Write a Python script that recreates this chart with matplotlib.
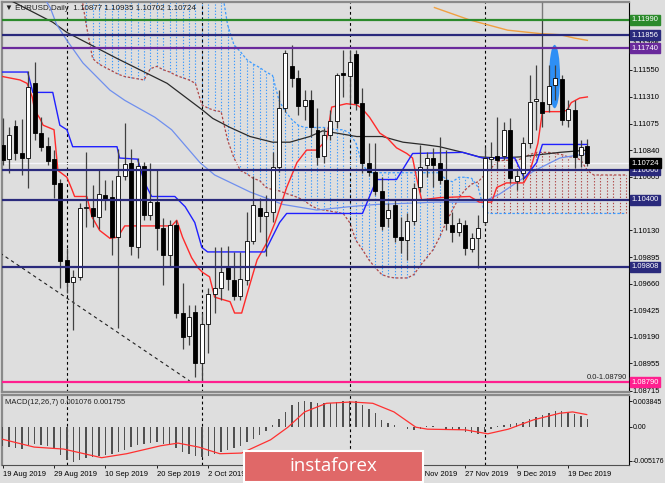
import numpy as np
import matplotlib.pyplot as plt
import matplotlib.transforms as mtransforms
from matplotlib.patches import Ellipse, FancyBboxPatch

plt.rcParams['font.family'] = ['Liberation Sans', 'DejaVu Sans']

# ---------------------------------------------------------------- data
# EURUSD daily, 19 Aug 2019 .. 24 Dec 2019 (bar index 0..91)
opens = [1.10885, 1.10761, 1.11053, 1.10814, 1.10770, 1.11433, 1.10991, 1.10876, 1.10761, 1.10549,
         1.09868, 1.09674, 1.09718, 1.10328, 1.10328, 1.10248, 1.10443, 1.10425, 1.10072, 1.10611,
         1.10726, 1.09983, 1.10699, 1.10266, 1.10381, 1.10151, 1.09913, 1.10178, 1.09400, 1.09197,
         1.09409, 1.08958, 1.09303, 1.09568, 1.09621, 1.09815, 1.09692, 1.09550, 1.09692, 1.10036,
         1.10328, 1.10257, 1.10293, 1.10690, 1.11212, 1.11583, 1.11477, 1.11230, 1.11283, 1.11018,
         1.10788, 1.10973, 1.11097, 1.11521, 1.11495, 1.11689, 1.11256, 1.10726, 1.10646, 1.10478,
         1.10240, 1.10355, 1.10072, 1.10045, 1.10213, 1.10514, 1.10708, 1.10770, 1.10726, 1.10576,
         1.10178, 1.10116, 1.10178, 1.09966, 1.10063, 1.10204, 1.10761, 1.10788, 1.10788, 1.11018,
         1.10567, 1.10637, 1.10903, 1.11274, 1.11265, 1.11247, 1.11416, 1.11468, 1.11106, 1.11194,
         1.10797, 1.10877]
highs = [1.11124, 1.11044, 1.11106, 1.11115, 1.11539, 1.11619, 1.11133, 1.10956, 1.10841, 1.10584,
         1.09975, 1.09780, 1.10372, 1.10823, 1.10531, 1.10664, 1.10576, 1.10576, 1.10850, 1.11079,
         1.10850, 1.10770, 1.10735, 1.10726, 1.10664, 1.10240, 1.10222, 1.10222, 1.09665, 1.09471,
         1.09471, 1.09400, 1.09621, 1.09983, 1.09983, 1.09992, 1.09939, 1.09939, 1.10293, 1.10611,
         1.10417, 1.10443, 1.10823, 1.11371, 1.11725, 1.11769, 1.11548, 1.11371, 1.11371, 1.11212,
         1.11035, 1.11194, 1.11521, 1.11725, 1.11725, 1.11725, 1.11389, 1.10903, 1.10903, 1.10602,
         1.10372, 1.10399, 1.10248, 1.10284, 1.10549, 1.10885, 1.10823, 1.10858, 1.10956, 1.10841,
         1.10293, 1.10240, 1.10222, 1.10107, 1.10266, 1.10867, 1.10912, 1.11133, 1.11088, 1.11124,
         1.10664, 1.10956, 1.11504, 1.11592, 1.11990, 1.11592, 1.11592, 1.11504, 1.11283, 1.11283,
         1.10929, 1.10935]
lows = [1.10708, 1.10637, 1.10752, 1.10620, 1.10505, 1.10929, 1.10832, 1.10708, 1.10417, 1.09621,
        1.09577, 1.09250, 1.09692, 1.10160, 1.10160, 1.10142, 1.10310, 1.09913, 1.09267, 1.10576,
        1.09913, 1.09886, 1.10222, 1.10222, 1.09957, 1.09647, 1.09806, 1.09356, 1.09082, 1.09117,
        1.08834, 1.08790, 1.09046, 1.09400, 1.09515, 1.09603, 1.09515, 1.09515, 1.09647, 1.10010,
        1.10116, 1.09904, 1.10204, 1.10646, 1.11177, 1.11398, 1.11150, 1.11106, 1.10956, 1.10708,
        1.10726, 1.10929, 1.11035, 1.11309, 1.11239, 1.11194, 1.10637, 1.10611, 1.10443, 1.10134,
        1.10160, 1.10027, 1.09930, 1.09868, 1.10178, 1.10470, 1.10602, 1.10514, 1.10540, 1.10134,
        1.10027, 1.10081, 1.09913, 1.09939, 1.09798, 1.10178, 1.10664, 1.10664, 1.10752, 1.10549,
        1.10487, 1.10576, 1.10858, 1.11018, 1.11044, 1.11177, 1.11283, 1.11062, 1.11044, 1.10682,
        1.10690, 1.10702]
closes = [1.10752, 1.10973, 1.10814, 1.10770, 1.11398, 1.10991, 1.10867, 1.10744, 1.10540, 1.09860,
          1.09674, 1.09718, 1.10328, 1.10337, 1.10257, 1.10452, 1.10408, 1.10072, 1.10611, 1.10717,
          1.09992, 1.10699, 1.10266, 1.10381, 1.10151, 1.09913, 1.10178, 1.09400, 1.09188, 1.09365,
          1.08958, 1.09303, 1.09568, 1.09621, 1.09762, 1.09700, 1.09550, 1.09700, 1.10036, 1.10355,
          1.10257, 1.10293, 1.10690, 1.11212, 1.11698, 1.11477, 1.11230, 1.11283, 1.11044, 1.10779,
          1.10973, 1.11097, 1.11504, 1.11504, 1.11619, 1.11256, 1.10726, 1.10646, 1.10478, 1.10169,
          1.10310, 1.10072, 1.10045, 1.10213, 1.10505, 1.10690, 1.10770, 1.10708, 1.10576, 1.10195,
          1.10116, 1.10195, 1.09975, 1.10063, 1.10151, 1.10770, 1.10779, 1.10752, 1.11018, 1.10593,
          1.10611, 1.10903, 1.11265, 1.11292, 1.11168, 1.11407, 1.11477, 1.11106, 1.11203, 1.10779,
          1.10867, 1.10724]

# date labels still visible (the others sit under the watermark)
date_ticks = [0, 8, 16, 24, 32, 64, 72, 80, 88]
date_labels = ['19 Aug 2019', '29 Aug 2019', '10 Sep 2019', '20 Sep 2019', '2 Oct 2019',
               '15 Nov 2019', '27 Nov 2019', '9 Dec 2019', '19 Dec 2019']
month_starts = [10, 31, 54, 75]

# ichimoku cloud (shifted forward, bars 12..97)
cloud_start = 12
span_a = [1.1230, 1.1195, 1.1165, 1.1160, 1.1157, 1.1154, 1.1151, 1.1149, 1.1148, 1.1147,
          1.1146, 1.1156, 1.1158, 1.1155, 1.1153, 1.1150, 1.1148, 1.1146, 1.1143, 1.1124,
          1.1121, 1.1119, 1.1118, 1.1093, 1.1077, 1.1066, 1.1063, 1.1059, 1.1057, 1.1051,
          1.1049, 1.1048, 1.1046, 1.1044, 1.1042, 1.1039, 1.1035, 1.1032, 1.1031, 1.1030,
          1.1029, 1.1028, 1.1020, 1.1004, 1.0996, 1.0987, 1.0980, 1.0974, 1.0972, 1.0971,
          1.0971, 1.0971, 1.0974, 1.0982, 1.0989, 1.0996, 1.1007, 1.1020, 1.1031, 1.1042,
          1.1049, 1.1054, 1.1056, 1.1062, 1.1068, 1.1074, 1.1075, 1.1075, 1.1075, 1.1077,
          1.1080, 1.1082, 1.1082, 1.1082, 1.1081, 1.1080, 1.1078, 1.1078, 1.1075, 1.1066,
          1.1062, 1.1062, 1.1062, 1.1062, 1.1062, 1.1062]
span_b = [1.1230, 1.1230, 1.1230, 1.1230, 1.1230, 1.1230, 1.1230, 1.1230, 1.1230, 1.1230,
          1.1230, 1.1230, 1.1230, 1.1230, 1.1230, 1.1230, 1.1230, 1.1230, 1.1230, 1.1230,
          1.1230, 1.1230, 1.1230, 1.1195, 1.1177, 1.1171, 1.1164, 1.1160, 1.1157, 1.1153,
          1.1150, 1.1128, 1.1118, 1.1111, 1.1106, 1.1104, 1.1104, 1.1104, 1.1104, 1.1103,
          1.1102, 1.1102, 1.1099, 1.1090, 1.1071, 1.1064, 1.1064, 1.1064, 1.1064, 1.1064,
          1.1064, 1.1064, 1.1064, 1.1064, 1.1064, 1.1064, 1.1064, 1.1058, 1.1056, 1.1060,
          1.1060, 1.1059, 1.1051, 1.1029, 1.1028, 1.1028, 1.1028, 1.1028, 1.1028, 1.1028,
          1.1028, 1.1028, 1.1028, 1.1028, 1.1028, 1.1028, 1.1028, 1.1028, 1.1028, 1.1028,
          1.1028, 1.1028, 1.1028, 1.1028, 1.1028, 1.1028]

tenkan_x = [0.0, 2.7, 3.8, 4.6, 5.0, 5.8, 6.3, 8.0, 8.6, 10.0, 10.8, 11.2, 13.1, 13.9, 15.1, 16.7, 17.9,
            19.0, 26.3, 27.1, 28.0, 29.4, 30.4, 31.1, 32.2, 33.0, 35.4, 36.1, 37.2, 38.2, 39.6, 41.1,
            42.4, 44.2, 45.8, 47.3, 48.9, 50.4, 51.2, 53.5, 55.1, 55.9, 57.1, 58.7, 59.8, 61.3, 62.9,
            63.8, 64.4, 65.2, 68.0, 72.7, 74.2, 76.1, 76.9, 78.4, 81.1, 82.0, 83.3, 84.0, 86.7, 87.8,
            88.5, 89.8, 91.0]
tenkan_y = [1.1149, 1.1146, 1.1143, 1.1131, 1.1119, 1.1112, 1.1106, 1.1102, 1.1066, 1.1060, 1.1049,
            1.1043, 1.1043, 1.1025, 1.1013, 1.1006, 1.1007, 1.1017, 1.1017, 1.1022, 1.1007, 1.0989,
            1.0980, 1.0976, 1.0972, 1.0954, 1.0950, 1.0940, 1.0940, 1.0960, 1.0987, 1.1002, 1.1020,
            1.1051, 1.1073, 1.1084, 1.1084, 1.1093, 1.1122, 1.1125, 1.1124, 1.1121, 1.1113, 1.1099,
            1.1095, 1.1086, 1.1081, 1.1077, 1.1060, 1.1040, 1.1042, 1.1043, 1.1038, 1.1038, 1.1051,
            1.1055, 1.1055, 1.1064, 1.1090, 1.1118, 1.1118, 1.1119, 1.1126, 1.1130, 1.1131]

kijun_x = [0.0, 3.9, 4.7, 7.8, 8.9, 10.0, 10.9, 17.8, 18.2, 21.0, 22.1, 23.2, 26.8, 28.4, 29.9, 31.0,
           31.9, 40.8, 43.1, 44.2, 56.0, 58.2, 61.3, 63.8, 71.6, 74.7, 79.7, 81.2, 83.1, 84.0, 91.0]
kijun_y = [1.1153, 1.1153, 1.1135, 1.1135, 1.1106, 1.1102, 1.1087, 1.1087, 1.1077, 1.1076, 1.1055,
           1.1043, 1.1043, 1.1034, 1.1020, 1.0998, 1.0994, 1.0994, 1.1020, 1.1028, 1.1028, 1.1058,
           1.1058, 1.1081, 1.1082, 1.1077, 1.1077, 1.1059, 1.1073, 1.1089, 1.1089]

ma_slow_x = [-0.4, 7.8, 10.0, 17.8, 25.6, 31.2, 32.7, 35.4, 38.5, 42.0, 44.7, 47.8, 49.8, 52.0, 55.1,
             59.1, 62.3, 65.4, 68.0, 71.6, 74.2, 77.3, 80.5, 83.6, 86.7, 91.0]
ma_slow_y = [1.1221, 1.1197, 1.1188, 1.1165, 1.1143, 1.1119, 1.1112, 1.1104, 1.1096, 1.1091, 1.1091,
             1.1096, 1.1101, 1.1099, 1.1096, 1.1096, 1.1091, 1.1089, 1.1087, 1.1082, 1.1078, 1.1077,
             1.1078, 1.1080, 1.1082, 1.1084]

ma_fast_x = [6.4, 7.4, 8.4, 10.0, 12.5, 16.7, 19.0, 23.7, 26.3, 30.7, 33.0, 38.5, 43.6, 48.9, 54.0,
             58.2, 67.5, 74.7, 77.3, 82.5, 86.7, 91.0]
ma_fast_y = [1.1219, 1.1210, 1.1195, 1.1181, 1.1161, 1.1137, 1.1128, 1.1113, 1.1102, 1.1073, 1.1062,
             1.1047, 1.1036, 1.1031, 1.1034, 1.1036, 1.1038, 1.1038, 1.1045, 1.1065, 1.1077, 1.1081]

ma_long_x = [67.2, 72.7, 78.6, 83.6, 86.7, 89.0, 91.0]
ma_long_y = [1.1210, 1.1199, 1.1190, 1.1187, 1.1186, 1.1183, 1.1181]

trend_x = [-0.4, 29.1]
trend_y = [1.0993, 1.0880]

levels = [1.11990, 1.11856, 1.11740, 1.10660, 1.10400, 1.09808, 1.08790]
level_colors = ['#2b8a2b', '#2a2a7c', '#6a2a9c', '#2a2a7c', '#2a2a7c', '#2a2a7c', '#ff1f8f']
last_price = 1.10724

price_ticks = [1.08715, 1.08955, 1.09190, 1.09425, 1.09660, 1.09895, 1.10130, 1.10370,
               1.10605, 1.10840, 1.11075, 1.11310, 1.11550, 1.11785]

# MACD(12,26,7)
macd_hist = [-0.0030, -0.0031, -0.0033, -0.0034, -0.0028, -0.0026, -0.0028, -0.0029, -0.0033, -0.0043,
             -0.0051, -0.0053, -0.0050, -0.0047, -0.0046, -0.0045, -0.0043, -0.0041, -0.0038, -0.0035,
             -0.0031, -0.0028, -0.0026, -0.0025, -0.0024, -0.0026, -0.0028, -0.0033, -0.0038, -0.0041,
             -0.0044, -0.0046, -0.0045, -0.0041, -0.0038, -0.0035, -0.0033, -0.0029, -0.0024, -0.0019,
             -0.0013, -0.0007, 0.0003, 0.0011, 0.0022, 0.0033, 0.0037, 0.0038, 0.0037, 0.0035,
             0.0035, 0.0036, 0.0037, 0.0039, 0.0039, 0.0038, 0.0032, 0.0026, 0.0020, 0.0010,
             0.0005, 0.0002, -0.0001, -0.0004, -0.0006, -0.0004, 0.0001, 0.0001, -0.0001, -0.0003,
             -0.0004, -0.0006, -0.0008, -0.0010, -0.0012, -0.0008, -0.0003, 0.0001, 0.0003, 0.0004,
             0.0005, 0.0007, 0.0011, 0.0015, 0.0018, 0.0021, 0.0023, 0.0023, 0.0022, 0.0019,
             0.0016, 0.0011]
signal_x = [-0.1, 4.9, 9.5, 15.4, 19.3, 24.6, 27.3, 30.5, 33.8, 37.2, 41.7, 44.4, 47.0, 50.4, 54.3,
            57.6, 60.9, 64.3, 66.1, 72.0, 75.5, 78.7, 82.6, 86.7, 88.7, 90.9]
signal_y = [-0.0019, -0.0031, -0.0034, -0.0047, -0.0041, -0.0029, -0.0025, -0.0031, -0.0041, -0.0040,
            -0.0020, -0.0001, 0.0022, 0.0035, 0.0037, 0.0035, 0.0022, -0.0001, -0.0004, -0.0005,
            -0.0011, -0.0004, 0.0010, 0.0020, 0.0022, 0.0018]
macd_ticks = [-0.005176, 0.0, 0.003845]
macd_labels = ['-0.005176', '0.00', '0.003845']

# ---------------------------------------------------------------- figure
bg = '#dedede'
W, H = 665., 483.
fig = plt.figure(figsize=(6.65, 4.83), dpi=100, facecolor=bg)
ax = fig.add_axes([2 / W, 1 - 392 / H, 626.5 / W, 390 / H], facecolor=bg)
ax2 = fig.add_axes([2 / W, 1 - 465 / H, 626.5 / W, 70 / H], facecolor=bg)

xmin, xmax = -0.1, 97.4
ax.set_xlim(xmin, xmax)
ax2.set_xlim(xmin, xmax)
ax.set_ylim(1.08702, 1.12149)
ax2.set_ylim(-0.0058, 0.00475)

# cloud hatching
cx = np.arange(cloud_start, cloud_start + len(span_a))
sa = np.array(span_a)
sb = np.array(span_b)
up = sb >= sa
ax.vlines(cx[up], sa[up], sb[up], colors='#3d9bff', linestyles=(0, (1.2, 1.6)), lw=0.8, zorder=1)
ax.vlines(cx[~up], sb[~up], sa[~up], colors='#b04848', linestyles=(0, (1.2, 1.6)), lw=0.8, zorder=1)
ax.plot(cx, sa, color='#b04848', ls=(0, (2, 1.5)), lw=0.9, zorder=1.5)
ax.plot(cx, sb, color='#3d9bff', ls=(0, (2, 1.5)), lw=0.9, zorder=1.5)

# month separators
for m in month_starts:
    ax.axvline(m, color='black', ls=(0, (2.5, 2.5)), lw=0.8, zorder=2)
    ax2.axvline(m, color='black', ls=(0, (2.5, 2.5)), lw=0.8, zorder=2)

# current price line
ax.axhline(last_price, color='#f4f4fa', lw=1.0, zorder=2)

# moving averages and ichimoku lines
ax.plot(ma_slow_x, ma_slow_y, color='#2a2a2a', lw=0.9, zorder=3)
ax.plot(ma_fast_x, ma_fast_y, color='#6f8fee', lw=0.9, zorder=3)
ax.plot(ma_long_x, ma_long_y, color='#f0a040', lw=1.0, zorder=3)
ax.plot(tenkan_x, tenkan_y, color='#ff2a2a', lw=1.0, zorder=3)
ax.plot(kijun_x, kijun_y, color='#2020ff', lw=1.0, zorder=3)
ax.plot(trend_x, trend_y, color='#202020', ls=(0, (3, 3)), lw=0.8, zorder=3)

# highlight ellipse
ax.add_patch(Ellipse((85.9, 1.1149), 1.7, 0.0056, facecolor='#2e8ff5', edgecolor='none', zorder=3.8))

# candles
idx = np.arange(len(closes))
o = np.array(opens)
h = np.array(highs)
l = np.array(lows)
c = np.array(closes)
bull = c >= o
ax.vlines(idx, l, h, color='#404040', lw=0.9, zorder=4)
ax.vlines(84, h[84], 1.12149, color='#7a7a7a', lw=1.0, zorder=4)
body = np.maximum(np.abs(c - o), 0.00003)
ax.bar(idx[bull], body[bull], 0.62, bottom=o[bull], color='white', edgecolor='black', lw=0.6, zorder=4.5)
ax.bar(idx[~bull], body[~bull], 0.62, bottom=c[~bull], color='black', edgecolor='black', lw=0.6, zorder=4.5)

# horizontal levels
for lv, col in zip(levels, level_colors):
    ax.axhline(lv, color=col, lw=1.6, zorder=5)

# axes styling
for a in (ax, ax2):
    for s in ('left', 'top', 'bottom'):
        a.spines[s].set_color('#8a8a8a')
        a.spines[s].set_linewidth(1.6)
    a.spines['right'].set_color('black')
    a.spines['right'].set_linewidth(0.8)
    a.yaxis.tick_right()
    a.tick_params(axis='y', labelsize=5.5, length=2, pad=1, width=0.6)

ax.set_yticks(price_ticks)
ax.set_yticklabels(['%.5f' % t for t in price_ticks])
ax.tick_params(axis='x', bottom=False, labelbottom=False)

ax2.set_yticks(macd_ticks)
ax2.set_yticklabels(macd_labels)
ax2.tick_params(axis='y', labelsize=5.0, pad=0.8)
ax2.set_xticks(date_ticks)
ax2.set_xticklabels(date_labels, ha='left')
ax2.tick_params(axis='x', labelsize=5.5, length=2.5, pad=2, width=0.6)
ax2.spines['bottom'].set_color('#505050')
ax2.spines['bottom'].set_linewidth(0.8)

# price label boxes
trans = mtransforms.blended_transform_factory(ax.transAxes, ax.transData)
box_levels = levels + [last_price]
box_colors = level_colors + ['black']
for lv, col in zip(box_levels, box_colors):
    ax.text(1.0048, lv, '%.5f' % lv, transform=trans, ha='left', va='center', fontsize=5.5,
            color='white', clip_on=False, zorder=10,
            bbox=dict(boxstyle='square,pad=0.2', fc=col, ec=col))

ax.text(0.997, 1.0879 + 0.0001, '0.0-1.08790', transform=trans, ha='right', va='bottom',
        fontsize=5.5, color='#202020', zorder=6)

# MACD
ax2.bar(idx, macd_hist, width=0.22, color='#505050', zorder=3)
ax2.plot(signal_x, signal_y, color='#ff3030', lw=0.9, zorder=4)
ax2.text(0.005, 0.9, 'MACD(12,26,7) 0.001076 0.001755', transform=ax2.transAxes,
         ha='left', va='center', fontsize=5.5, color='#202020')

# header
fig.text(5 / W, 1 - 8 / H, '\u25bc EURUSD,Daily  1.10877 1.10935 1.10702 1.10724',
         fontsize=5.8, va='center', ha='left', color='#202020')

# watermark
wm = FancyBboxPatch((244 / W, 1 - 482 / H), 179 / W, 31 / H, boxstyle='square,pad=0',
                    transform=fig.transFigure, facecolor='#e06868', edgecolor='white', lw=1.5, zorder=20)
fig.add_artist(wm)
fig.text(333.5 / W, 1 - 466 / H, 'instaforex', fontsize=13.5, color='white', ha='center', va='center',
         family=['Open Sans', 'DejaVu Sans'], zorder=21)

fig.savefig('out.png', dpi=100, facecolor=bg)
